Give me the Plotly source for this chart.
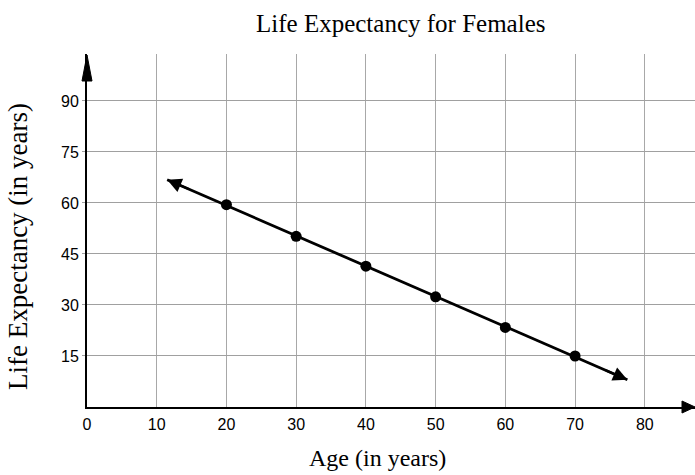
import numpy as np
import plotly.graph_objects as go

# Observed life expectancy by current age
age = [20, 30, 40, 50, 60, 70]
life_expectancy = [59.5, 50.2, 41.4, 32.4, 23.4, 15.0]

# Axis ticks
x_ticks = [0, 10, 20, 30, 40, 50, 60, 70, 80]
y_ticks = [15, 30, 45, 60, 75, 90]

# Age span covered by the trend line (arrows at both ends)
line_extent = [11.5, 77.5]

x_range = [0, 87.2]
y_range = [0, 103.8]

# Least-squares trend line through the observations
slope, intercept = np.polyfit(age, life_expectancy, 1)
line_x = np.array(line_extent, dtype=float)
line_y = slope * line_x + intercept

fig = go.Figure()

# Trend line
fig.add_trace(go.Scatter(
    x=line_x, y=line_y, mode="lines",
    line=dict(color="black", width=2.8),
    hoverinfo="skip", showlegend=False,
))

# Data points
fig.add_trace(go.Scatter(
    x=age, y=life_expectancy, mode="markers",
    marker=dict(color="black", size=11),
    showlegend=False,
))

annotations = []

# Arrowheads at each end of the trend line
for i, j in [(0, 1), (1, 0)]:
    tip_x, tip_y = line_x[i], line_y[i]
    back_x = tip_x + (line_x[j] - tip_x) * 0.05
    back_y = slope * back_x + intercept
    annotations.append(dict(
        x=tip_x, y=tip_y, ax=back_x, ay=back_y,
        xref="x", yref="y", axref="x", ayref="y",
        showarrow=True, arrowhead=2, arrowsize=1.3, arrowwidth=2.2,
        arrowcolor="black", text="",
    ))

serif = "Liberation Serif, Times New Roman, serif"

annotations += [
    dict(text="Life Expectancy for Females", x=0.515, y=1.085,
         xref="paper", yref="paper", xanchor="center", yanchor="middle",
         showarrow=False, font=dict(family=serif, size=25, color="black")),
    dict(text="Age (in years)", x=0.477, y=-0.1445,
         xref="paper", yref="paper", xanchor="center", yanchor="middle",
         showarrow=False, font=dict(family=serif, size=24, color="black")),
    dict(text="Life Expectancy (in years)", x=-0.1135, y=0.456,
         xref="paper", yref="paper", xanchor="center", yanchor="middle",
         textangle=-90, showarrow=False,
         font=dict(family=serif, size=27, color="black")),
]

# Arrowheads on the axes
shapes = [
    dict(type="path", xref="paper", yref="paper",
         xsizemode="pixel", ysizemode="pixel", xanchor=1, yanchor=0,
         path="M -13 -6 L 0 0 L -13 6 Z",
         fillcolor="black", line=dict(color="black", width=1)),
    dict(type="path", xref="paper", yref="paper",
         xsizemode="pixel", ysizemode="pixel", xanchor=0, yanchor=1,
         path="M -5 -27 L 0 -1 L 5 -27 Z",
         fillcolor="black", line=dict(color="black", width=1)),
]

tick_font = dict(family="Liberation Sans, Arial, sans-serif", size=16, color="black")

fig.update_layout(
    width=695, height=475,
    margin=dict(l=87, r=0, t=54, b=68),
    paper_bgcolor="white", plot_bgcolor="white",
    annotations=annotations, shapes=shapes,
    xaxis=dict(
        range=x_range, tickvals=x_ticks, ticktext=[str(v) for v in x_ticks],
        showgrid=True, gridcolor="#a8a8a8", gridwidth=1,
        zeroline=False, showline=True, linecolor="black", linewidth=2,
        ticks="", ticklabelstandoff=2, tickfont=tick_font,
    ),
    yaxis=dict(
        range=y_range, tickvals=y_ticks, ticktext=[str(v) for v in y_ticks],
        showgrid=True, gridcolor="#a0a0a0", gridwidth=1,
        zeroline=False, showline=True, linecolor="black", linewidth=2,
        ticks="outside", ticklen=3, tickcolor="#a0a0a0", tickwidth=1,
        ticklabelstandoff=0, tickfont=tick_font,
    ),
)

fig.write_html("out.html")
